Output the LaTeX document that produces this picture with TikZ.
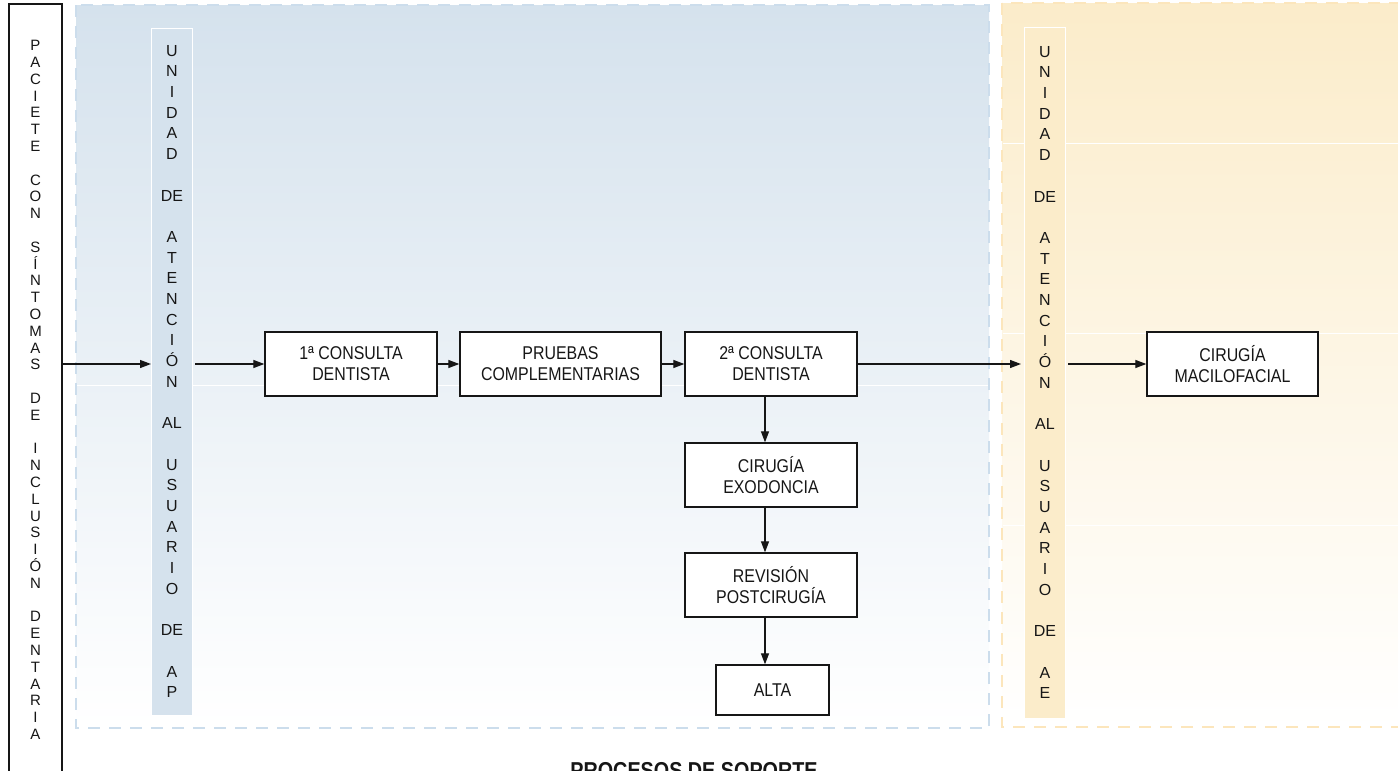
\documentclass[tikz,border=0pt]{standalone}
\usepackage{fontspec}
\setmainfont{Liberation Sans}
\newfontfamily\boxfont{Liberation Sans}[FakeStretch=0.86]
\usetikzlibrary{arrows.meta,positioning}

\definecolor{apblue}{RGB}{213,226,237}
\definecolor{apline}{RGB}{204,221,236}
\definecolor{aeyellow}{RGB}{251,236,202}
\definecolor{aeline}{RGB}{252,230,188}
\definecolor{inkgray}{RGB}{22,22,22}

\tikzset{
  stepbox/.style={draw=inkgray, line width=1.3pt, fill=white, minimum width=172pt,
    minimum height=64pt, inner sep=0pt, align=center, text=inkgray,
    font=\boxfont\fontsize{18.5}{21}\selectfont},
  unitcol/.style={draw=white, line width=1pt, minimum width=41pt, inner sep=0pt,
    align=center, text=inkgray, font=\fontsize{16}{20.7}\selectfont},
  zone/.style={line width=1.5pt, dash pattern=on 12pt off 9pt},
  band/.style={white, line width=1pt},
}

\begin{document}
\begin{tikzpicture}[x=1pt, y=-1pt, >={Triangle[length=11pt,width=8pt]}]
  \useasboundingbox (0,0) rectangle (1398,771);

  % zonas de fondo
  \fill[top color=apblue, bottom color=white] (76,5) rectangle (989,728);
  \draw[zone, draw=apline] (76,5) rectangle (989,728);
  \fill[top color=aeyellow, bottom color=white] (1002,3) rectangle (1412,727);
  \draw[zone, draw=aeline] (1002,3) rectangle (1412,727);
  \draw[band] (77,385) -- (988,385);
  \draw[band] (1003,143) -- (1398,143);
  \draw[band] (1003,333) -- (1398,333);
  \draw[band] (1003,525) -- (1398,525);

  % columnas verticales
  \node[draw=inkgray, line width=1.3pt, fill=white, minimum width=53pt, minimum height=772pt,
    inner sep=0pt, align=center, text=inkgray, font=\fontsize{15}{16.8}\selectfont]
    (paciente) at (35.5,390)
    {P\\A\\C\\I\\E\\T\\E\\~\\C\\O\\N\\~\\S\\Í\\N\\T\\O\\M\\A\\S\\~\\D\\E\\~\\I\\N\\C\\L\\U\\S\\I\\Ó\\N\\~\\D\\E\\N\\T\\A\\R\\I\\A};
  \node[unitcol, fill=apblue, minimum height=687pt] (unidadAP) at (172,371.5)
    {U\\N\\I\\D\\A\\D\\~\\DE\\~\\A\\T\\E\\N\\C\\I\\Ó\\N\\~\\AL\\~\\U\\S\\U\\A\\R\\I\\O\\~\\DE\\~\\A\\P};
  \node[unitcol, fill=aeyellow, minimum height=691pt] (unidadAE) at (1045,372.5)
    {U\\N\\I\\D\\A\\D\\~\\DE\\~\\A\\T\\E\\N\\C\\I\\Ó\\N\\~\\AL\\~\\U\\S\\U\\A\\R\\I\\O\\~\\DE\\~\\A\\E};

  % pasos
  \node[stepbox] (consulta1) at (351,364) {1ª CONSULTA\\DENTISTA};
  \node[stepbox, minimum width=201pt] (pruebas) at (560.5,364) {PRUEBAS\\COMPLEMENTARIAS};
  \node[stepbox] (consulta2) at (771,364) {2ª CONSULTA\\DENTISTA};
  \node[stepbox] (exodoncia) at (771,475) {CIRUGÍA\\EXODONCIA};
  \node[stepbox] (revision) at (771,585) {REVISIÓN\\POSTCIRUGÍA};
  \node[stepbox, minimum width=113pt, minimum height=50pt] (alta) at (772.5,690) {ALTA};
  \node[stepbox, minimum width=171pt] (macilo) at (1232.5,364) {CIRUGÍA\\MACILOFACIAL};

  \node[anchor=base, text=inkgray, font=\boxfont\bfseries\fontsize{23}{26}\selectfont]
    (soporte) at (694,778) {PROCESOS DE SOPORTE};

  % flechas
  \begin{scope}[->, draw=inkgray, line width=1.2pt]
    \draw (paciente.east |- consulta1.west) -- (unidadAP.west |- consulta1.west);
    \draw ([xshift=2pt]unidadAP.east |- consulta1.west) -- (consulta1.west);
    \draw (consulta1) -- (pruebas);
    \draw (pruebas) -- (consulta2);
    \draw (consulta2.east) -- ([xshift=-3pt]unidadAE.west |- consulta2.east);
    \draw ([xshift=2pt]unidadAE.east |- macilo.west) -- (macilo.west);
    \draw ([xshift=-6pt]consulta2.south) -- ([xshift=-6pt]exodoncia.north);
    \draw ([xshift=-6pt]exodoncia.south) -- ([xshift=-6pt]revision.north);
    \draw ([xshift=-6pt]revision.south) -- ([xshift=-6pt]revision.south |- alta.north);
  \end{scope}
\end{tikzpicture}
\end{document}
